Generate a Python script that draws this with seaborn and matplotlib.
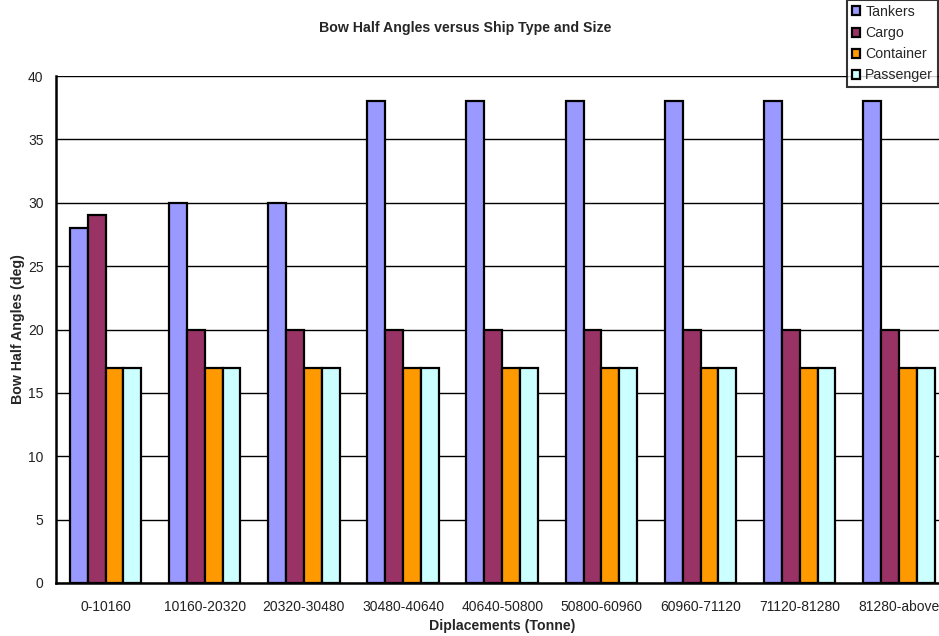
import matplotlib
matplotlib.use("Agg")
import matplotlib.pyplot as plt
import seaborn as sns
import pandas as pd
import numpy as np
from matplotlib.ticker import FixedLocator

categories = ["0-10160", "10160-20320", "20320-30480", "30480-40640", "40640-50800",
              "50800-60960", "60960-71120", "71120-81280", "81280-above"]
tankers = [28, 30, 30, 38, 38, 38, 38, 38, 38]
cargo = [29, 20, 20, 20, 20, 20, 20, 20, 20]
container = [17, 17, 17, 17, 17, 17, 17, 17, 17]
passenger = [17, 17, 17, 17, 17, 17, 17, 17, 17]
series_names = ["Tankers", "Cargo", "Container", "Passenger"]
palette = ["#9999FF", "#993366", "#FF9900", "#CCFFFF"]

rows = []
for name, vals in zip(series_names, [tankers, cargo, container, passenger]):
    for cat, v in zip(categories, vals):
        rows.append({"Displacement": cat, "Type": name, "Angle": v})
df = pd.DataFrame(rows)

sns.set_theme(style="white")
plt.rcParams["font.family"] = ["Liberation Sans", "DejaVu Sans"]

fig = plt.figure(figsize=(9.39, 6.36), dpi=100)
ax = fig.add_axes([56 / 939, 1 - 583 / 636, 1 - 56 / 939 + 0.01, (583 - 76) / 636])

sns.barplot(data=df, x="Displacement", y="Angle", hue="Type", order=categories,
            hue_order=series_names, palette=palette, width=0.72, saturation=1,
            edgecolor="black", linewidth=1.6, ax=ax, legend=True, zorder=3)

ax.set_ylim(0, 40)
ax.set_xlim(-0.5, len(categories) - 0.5)
ax.set_yticks(np.arange(0, 41, 5))
ax.yaxis.grid(True, color="black", linewidth=1.0, zorder=0)
ax.set_axisbelow(True)

# category boundary ticks on x axis
ax.xaxis.set_minor_locator(FixedLocator(np.arange(-0.5, len(categories), 1.0)))
ax.tick_params(axis="x", which="major", length=0, pad=12, labelsize=10, colors="#222222")
ax.tick_params(axis="x", which="minor", length=5, width=1.5, color="black", direction="out")
ax.tick_params(axis="y", which="major", length=5, width=1.5, color="black", direction="out",
               labelsize=10, labelcolor="#222222", pad=4)

for side in ["top", "right"]:
    ax.spines[side].set_visible(False)
for side in ["left", "bottom"]:
    ax.spines[side].set_color("black")
    ax.spines[side].set_linewidth(1.8)

ax.set_xlabel("Diplacements (Tonne)", fontsize=10.2, fontweight="bold", labelpad=4)
ax.set_ylabel("Bow Half Angles (deg)", fontsize=10.2, fontweight="bold", labelpad=2)

handles, labels = ax.get_legend_handles_labels()
ax.get_legend().remove()
leg = fig.legend(handles, labels, loc="upper right", bbox_to_anchor=(938 / 939, 1.0),
                 frameon=True, fancybox=False, fontsize=10.2, handlelength=0.6,
                 handleheight=0.6, handletextpad=0.35, labelspacing=0.5,
                 borderpad=0.35, borderaxespad=0)
leg.get_frame().set_edgecolor("black")
leg.get_frame().set_linewidth(1.5)
for h in leg.legend_handles:
    h.set_edgecolor("black")
    h.set_linewidth(1.6)

fig.text(465 / 939, 1 - 28 / 636, "Bow Half Angles versus Ship Type and Size",
         ha="center", va="center", fontsize=10.2, fontweight="bold")

fig.savefig("out.png", dpi=100)
